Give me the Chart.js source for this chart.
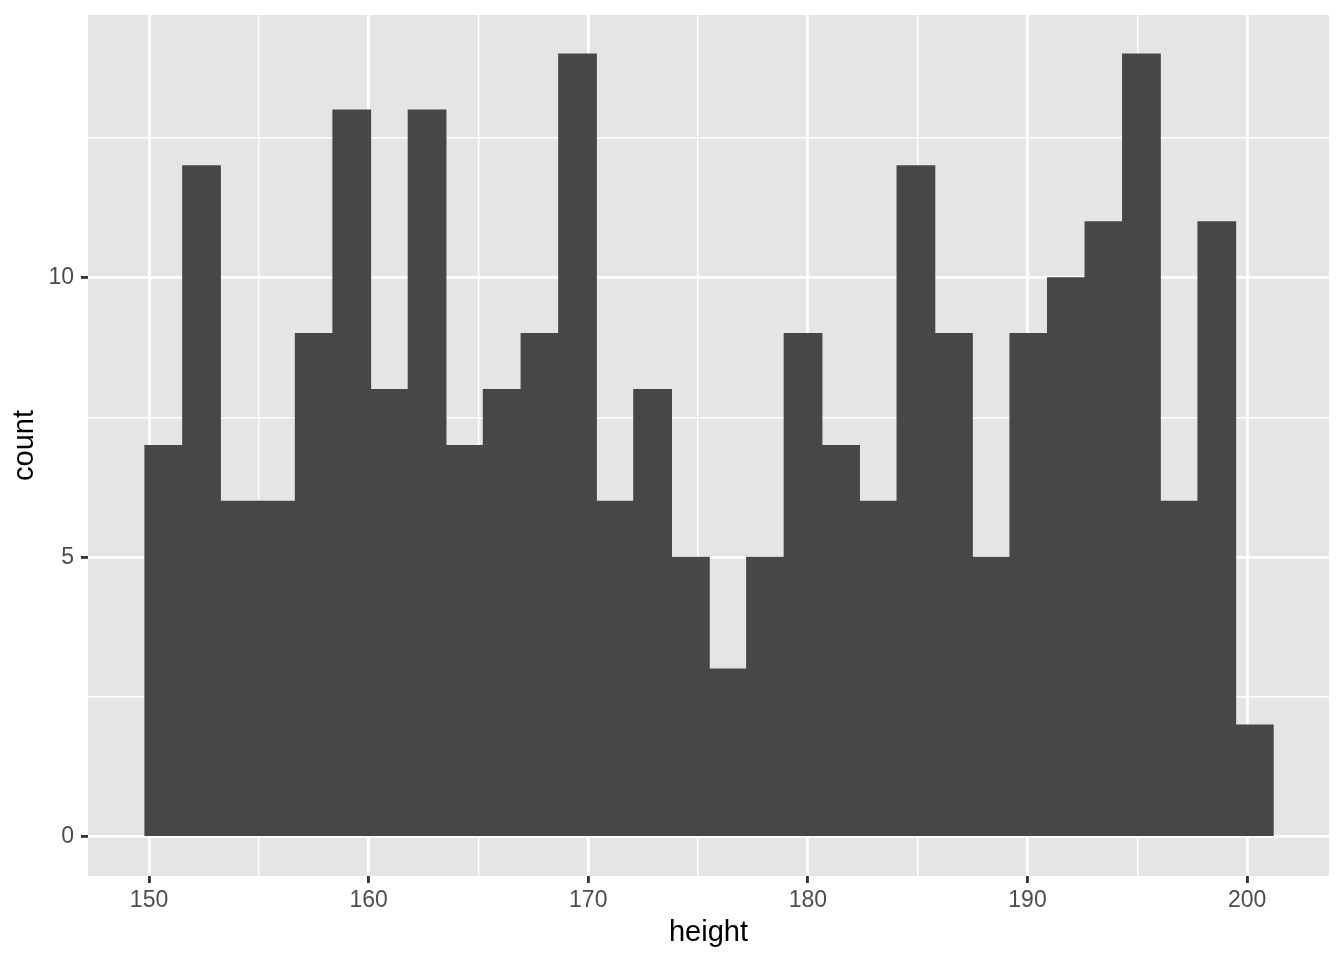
<!DOCTYPE html>
<html>
<head>
<meta charset="utf-8">
<script src="https://cdn.jsdelivr.net/npm/chart.js@4.4.0/dist/chart.umd.min.js"></script>
<style>
  html, body { margin: 0; padding: 0; background: #fff; }
  #wrap { width: 1344px; height: 960px; }
</style>
</head>
<body>
<div id="wrap"><canvas id="chart" width="1344" height="960"></canvas></div>
<script>
// bin centres (height) and counts, 30 bins
var binCenters = [150.67, 152.39, 154.10, 155.81, 157.52, 159.23, 160.95, 162.66, 164.37, 166.08,
                  167.80, 169.51, 171.22, 172.93, 174.65, 176.36, 178.07, 179.78, 181.49, 183.21,
                  184.92, 186.63, 188.34, 190.06, 191.77, 193.48, 195.19, 196.91, 198.62, 200.33];
var counts = [7, 12, 6, 6, 9, 13, 8, 13, 7, 8,
              9, 14, 6, 8, 5, 3, 5, 9, 7, 6,
              12, 9, 5, 9, 10, 11, 14, 6, 11, 2];

var xMajor = [150, 160, 170, 180, 190, 200];
var xMinor = [155, 165, 175, 185, 195];
var yMajor = [0, 5, 10];
var yMinor = [2.5, 7.5, 12.5];

var xRange = [147.22, 203.73];
var yRange = [-0.7, 14.7];

var puntos = [];
for (var i = 0; i < binCenters.length; i++) {
    puntos.push({ x: binCenters[i], y: counts[i] });
}

function ponerTicks(mayores, menores) {
    return function (scale) {
        var todos = mayores.concat(menores).sort(function (a, b) { return a - b; });
        scale.ticks = todos.map(function (v) { return { value: v }; });
    };
}

function esMayor(lista, v) {
    return lista.indexOf(v) !== -1;
}

// fondo gris del panel
const fondoPanel = {
    id: 'fondoPanel',
    beforeDraw(chart) {
        const a = chart.chartArea;
        const ctx = chart.ctx;
        ctx.save();
        ctx.fillStyle = '#E5E5E5';
        ctx.fillRect(a.left, a.top, a.right - a.left, a.bottom - a.top);
        ctx.restore();
    }
};

const config = {
    type: 'bar',
    data: {
        datasets: [{
            label: 'count',
            data: puntos,
            backgroundColor: '#474747',
            borderWidth: 0,
            inflateAmount: 0.6,
            barPercentage: 1.0,
            categoryPercentage: 1.0
        }]
    },
    options: {
        responsive: false,
        animation: false,
        layout: { padding: { left: 0, right: 15, top: 15, bottom: 0 } },
        plugins: {
            legend: { display: false },
            tooltip: { enabled: false }
        },
        scales: {
            x: {
                type: 'linear',
                min: xRange[0],
                max: xRange[1],
                offset: false,
                afterBuildTicks: ponerTicks(xMajor, xMinor),
                afterFit: function (scale) {
                    scale.height = 84;
                    scale.paddingLeft = 0;
                    scale.paddingRight = 0;
                },
                border: { display: false },
                grid: {
                    offset: false,
                    color: '#FFFFFF',
                    lineWidth: function (c) { return esMayor(xMajor, c.tick.value) ? 2.85 : 1.42; },
                    drawTicks: true,
                    tickLength: 7,
                    tickWidth: 2.85,
                    tickColor: function (c) { return esMayor(xMajor, c.tick.value) ? '#333333' : 'rgba(0,0,0,0)'; }
                },
                ticks: {
                    autoSkip: false,
                    maxRotation: 0,
                    padding: 4,
                    color: '#4D4D4D',
                    font: { family: 'Liberation Sans, Arial, sans-serif', size: 23 },
                    callback: function (v) { return esMayor(xMajor, v) ? String(v) : ''; }
                },
                title: {
                    display: true,
                    text: 'height',
                    color: '#000000',
                    font: { family: 'Liberation Sans, Arial, sans-serif', size: 29 },
                    padding: { top: 0, bottom: 10 }
                }
            },
            y: {
                type: 'linear',
                min: yRange[0],
                max: yRange[1],
                afterBuildTicks: ponerTicks(yMajor, yMinor),
                afterFit: function (scale) {
                    scale.width = 88;
                    scale.paddingTop = 0;
                    scale.paddingBottom = 0;
                },
                border: { display: false },
                grid: {
                    color: '#FFFFFF',
                    lineWidth: function (c) { return esMayor(yMajor, c.tick.value) ? 2.85 : 1.42; },
                    drawTicks: true,
                    tickLength: 7,
                    tickWidth: 2.85,
                    tickColor: function (c) { return esMayor(yMajor, c.tick.value) ? '#333333' : 'rgba(0,0,0,0)'; }
                },
                ticks: {
                    autoSkip: false,
                    padding: 7,
                    color: '#4D4D4D',
                    font: { family: 'Liberation Sans, Arial, sans-serif', size: 23 },
                    callback: function (v) { return esMayor(yMajor, v) ? String(v) : ''; }
                },
                title: {
                    display: true,
                    text: 'count',
                    color: '#000000',
                    font: { family: 'Liberation Sans, Arial, sans-serif', size: 29 },
                    padding: { top: 8, bottom: 0 }
                }
            }
        }
    },
    plugins: [fondoPanel]
};

let miGrafico = new Chart(document.getElementById('chart'), config);
</script>
</body>
</html>
